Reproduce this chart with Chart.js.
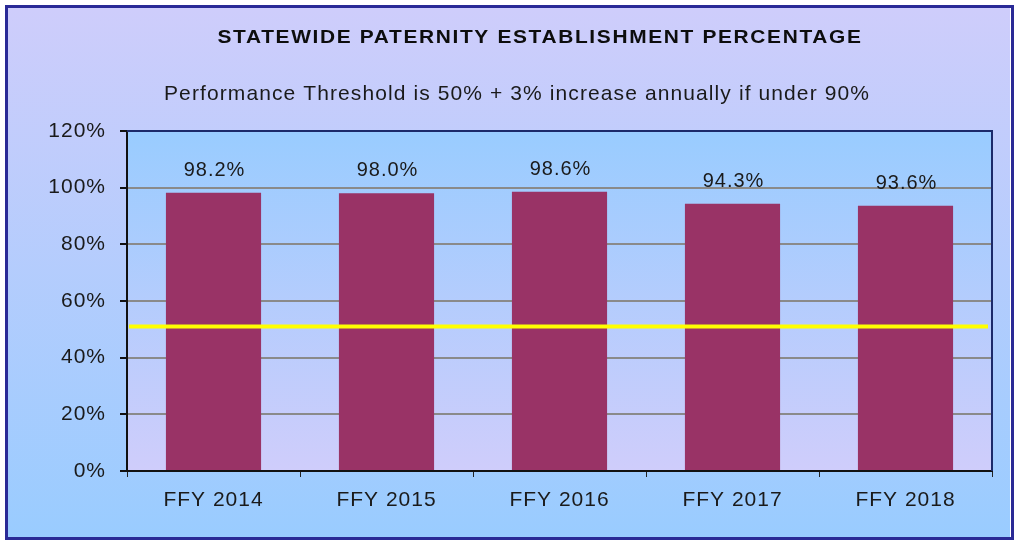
<!DOCTYPE html>
<html>
<head>
    <title>Statewide Paternity Establishment Percentage</title>
    <script src="https://cdn.jsdelivr.net/npm/chart.js"></script>
    <style>
        body { margin: 0; background: #ffffff; }
        #wrap { width: 1016px; height: 542px; }
    </style>
</head>
<body>
    <div id="wrap"><canvas id="patChart" width="1016" height="542"></canvas></div>

    <script>
        const years = ['FFY 2014', 'FFY 2015', 'FFY 2016', 'FFY 2017', 'FFY 2018'];
        const percentages = [98.2, 98.0, 98.6, 94.3, 93.6];
        const threshold = [51];
        const yTicks = [0, 20, 40, 60, 80, 100, 120];

        const titleText = 'STATEWIDE PATERNITY ESTABLISHMENT PERCENTAGE';
        const subtitleText = 'Performance Threshold is 50% + 3% increase annually if under 90%';

        const FONT = 'Arial, "Liberation Sans", sans-serif';

        // backgrounds, frame, titles, threshold line and value labels
        const decorPlugin = {
            id: 'decor',
            beforeLayout(chart) {
                chart.ctx.letterSpacing = '1px';
            },
            beforeDraw(chart) {
                const ctx = chart.ctx;
                const a = chart.chartArea;
                ctx.letterSpacing = '1px';
                ctx.save();
                let g = ctx.createLinearGradient(0, 0, 0, chart.height);
                g.addColorStop(0, '#cfcdfb');
                g.addColorStop(1, '#99ccff');
                ctx.fillStyle = '#ffffff';
                ctx.fillRect(0, 0, chart.width, chart.height);
                ctx.fillStyle = g;
                ctx.fillRect(6, 6, chart.width - 12, chart.height - 9);
                ctx.strokeStyle = '#2a2a96';
                ctx.lineWidth = 3;
                ctx.strokeRect(6.5, 6.5, chart.width - 10, chart.height - 10);

                g = ctx.createLinearGradient(0, a.top, 0, a.bottom);
                g.addColorStop(0, '#99ccff');
                g.addColorStop(1, '#cfcdfb');
                ctx.fillStyle = g;
                ctx.fillRect(a.left, a.top, a.right - a.left, a.bottom - a.top);

                // titles
                ctx.textAlign = 'center';
                ctx.textBaseline = 'alphabetic';
                ctx.fillStyle = '#0d0d0d';
                ctx.save();
                ctx.translate(540, 43);
                ctx.scale(1.1, 1);
                ctx.letterSpacing = '1.5px';
                ctx.font = 'bold 19px ' + FONT;
                ctx.fillText(titleText, 0, 0);
                ctx.restore();
                ctx.letterSpacing = '1.1px';
                ctx.fillStyle = '#1a1a1a';
                ctx.font = '21px ' + FONT;
                ctx.fillText(subtitleText, 517, 100);
                ctx.restore();
            },
            afterDatasetsDraw(chart) {
                const ctx = chart.ctx;
                const a = chart.chartArea;
                const y = chart.scales.y;
                ctx.save();
                // plot frame top/right
                ctx.strokeStyle = '#1c2a6a';
                ctx.lineWidth = 2;
                ctx.beginPath();
                ctx.moveTo(a.left, a.top);
                ctx.lineTo(a.right, a.top);
                ctx.lineTo(a.right, a.bottom);
                ctx.stroke();
                // threshold
                threshold.forEach(v => {
                    const py = y.getPixelForValue(v);
                    ctx.strokeStyle = '#ffff00';
                    ctx.lineWidth = 4;
                    ctx.beginPath();
                    ctx.moveTo(a.left + 2, py);
                    ctx.lineTo(a.right - 4, py);
                    ctx.stroke();
                });
                // value labels
                ctx.fillStyle = '#1a1a1a';
                ctx.font = '20px ' + FONT;
                ctx.letterSpacing = '1px';
                ctx.textAlign = 'center';
                ctx.textBaseline = 'alphabetic';
                chart.getDatasetMeta(0).data.forEach((bar, i) => {
                    ctx.fillText(percentages[i].toFixed(1) + '%', bar.x + 1, bar.y - 17);
                });
                ctx.restore();
            }
        };

        new Chart(document.getElementById('patChart'), {
            type: 'bar',
            data: {
                labels: years,
                datasets: [{
                    data: percentages,
                    backgroundColor: '#993366',
                    categoryPercentage: 0.55,
                    barPercentage: 1
                }]
            },
            options: {
                responsive: false,
                animation: false,
                layout: { padding: { left: 0, right: 24, top: 131, bottom: 0 } },
                plugins: {
                    legend: { display: false },
                    tooltip: { enabled: false },
                    title: { display: false }
                },
                scales: {
                    x: {
                        grid: {
                            offset: true,
                            drawOnChartArea: false,
                            drawTicks: true,
                            tickLength: 6,
                            tickColor: '#222222'
                        },
                        border: { color: '#111111', width: 2 },
                        ticks: {
                            color: '#1a1a1a',
                            font: { family: FONT, size: 21 },
                            padding: 11
                        },
                        afterFit(scale) { scale.height = 71; }
                    },
                    y: {
                        min: yTicks[0],
                        max: yTicks[yTicks.length - 1],
                        afterBuildTicks(scale) {
                            scale.ticks = yTicks.map(v => ({ value: v }));
                        },
                        grid: {
                            color: ctx => (ctx.tick && (ctx.tick.value === 120 || ctx.tick.value === 0)) ? 'rgba(0,0,0,0)' : '#8a8a8a',
                            lineWidth: 2,
                            tickLength: 7,
                            tickColor: '#111111'
                        },
                        border: { color: '#111111', width: 2 },
                        ticks: {
                            color: '#1a1a1a',
                            font: { family: FONT, size: 21 },
                            padding: 14,
                            callback: v => v + '%'
                        },
                        afterFit(scale) { scale.width = 127; }
                    }
                }
            },
            plugins: [decorPlugin]
        });
    </script>
</body>
</html>
